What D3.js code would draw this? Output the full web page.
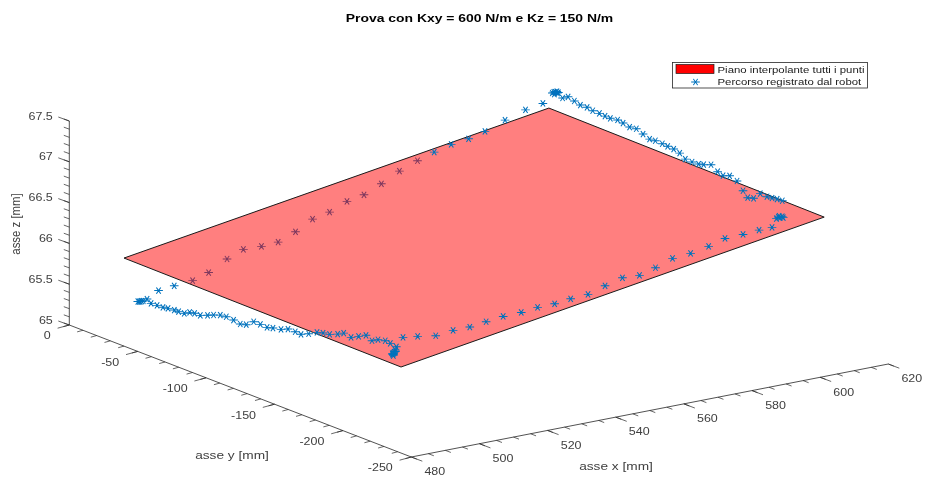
<!DOCTYPE html>
<html>
<head>
<meta charset="utf-8">
<script src="https://cdn.jsdelivr.net/npm/d3@7"></script>
<style>
  html, body { margin: 0; padding: 0; background: #fff; }
  svg { filter: blur(0.35px); }
  text { font-family: "Liberation Sans", Arial, sans-serif; fill: #404040; }
</style>
</head>
<body>
<div id="chart"></div>
<script>
// Axis ticks
var xTicks = [480, 500, 520, 540, 560, 580, 600, 620];
var yTicks = [0, -50, -100, -150, -200, -250];
var zTicks = [65, 65.5, 66, 66.5, 67, 67.5];

// Plane corners (mm)
var planeX = [481, 605.7, 605.2, 481];
var planeY = [-37.5, -37.5, -240, -240];
var planeZ = [66.055, 66.878, 66.856, 66.03];

// Robot path (mm), points drawn in front of the plane
var pathX = [
  483, 483, 483, 483, 483, 483, 483, 483, 483, 483,
  483, 483, 483, 483, 483, 483, 483, 483, 483, 483,
  483, 483, 483, 483, 483, 483, 483, 483, 483, 483,
  483, 483, 483, 483, 483, 483, 483, 483, 483, 483,
  483, 483, 483, 483, 483, 483, 483, 483, 483, 483, 483,
  485.6, 489.9, 495.2, 500.3, 505.2, 510, 515, 520.3, 525.1, 530.1,
  534.8, 539.9, 544.9, 550, 555, 559.7, 564.7, 570, 575.3, 580.1,
  585.4, 590.1, 593.9, 595.2, 595.8, 596.3, 596.9, 597.2, 596,
  597, 597, 597, 597, 597, 597, 597, 597, 597, 597,
  597, 597, 597, 597, 597, 597, 597, 597, 597, 597,
  597, 597, 597, 597, 597, 597, 597, 597, 597, 597,
  597, 597, 597, 597, 597, 597, 597,
  597, 597, 597, 597, 597, 597, 597,
  593.3, 588.2, 582.2, 576.3, 571.5, 566.4, 561.4,
  485.1, 480.5, 482.5
];
var pathY = [
  -42.6, -43.5, -44.4, -45.4, -46.6, -52.3, -56.7, -61, -64.7, -69.3,
  -72.4, -76.6, -80.5, -84.1, -88.3, -93.6, -98, -102.9, -107.3, -112.6,
  -117.5, -121.9, -127.3, -132.2, -137.1, -141.4, -147.3, -152.4, -157.7, -161.9,
  -167.5, -173.6, -178, -182.8, -188.7, -193.1, -198.5, -204, -209.4, -213.8,
  -218.2, -223.5, -227.2, -231.6, -230.9, -229.6, -229, -230.1, -229.4, -230.9, -228.7,
  -230, -230, -230, -230, -230, -230, -230, -230, -230, -230,
  -230, -230, -230, -230, -230, -230, -230, -230, -230, -230,
  -230, -230, -230, -230, -230, -230, -230, -230, -230,
  -229.8, -226, -222.3, -218.6, -213.7, -208.8, -204.5, -201.1, -196.7, -191.3,
  -186.5, -182.5, -177.7, -172.3, -168.6, -163.8, -158.9, -154.8, -150.4, -146,
  -142.1, -137, -132.8, -128, -123.1, -118.2, -113.4, -109.4, -104.1, -100.2,
  -96.1, -91.2, -87.1, -82.2, -77.8, -73.2, -69.2,
  -61.7, -62.8, -63.9, -65, -66.1, -63.2, -65.4,
  -64, -64, -64, -64, -64, -64, -64,
  -64, -64, -50.6
];
var pathZ = [
  65.539, 65.544, 65.551, 65.563, 65.571, 65.579, 65.583, 65.587, 65.598, 65.607,
  65.607, 65.614, 65.651, 65.663, 65.665, 65.7, 65.732, 65.763, 65.771, 65.765,
  65.748, 65.768, 65.839, 65.839, 65.834, 65.853, 65.875, 65.912, 65.913, 65.909,
  65.952, 66.009, 66.029, 66.044, 66.085, 66.126, 66.108, 66.156, 66.204, 66.166,
  66.207, 66.229, 66.221, 66.207, 66.162, 66.114, 66.095, 66.133, 66.085, 66.144, 66.105,
  66.291, 66.268, 66.233, 66.257, 66.258, 66.284, 66.308, 66.314, 66.337, 66.34,
  66.363, 66.376, 66.44, 66.497, 66.486, 66.541, 66.615, 66.633, 66.676, 66.734,
  66.74, 66.755, 66.757, 66.854, 66.868, 66.857, 66.865, 66.85, 66.878,
  67.057, 67.053, 67.042, 67.034, 67.04, 66.951, 66.931, 66.994, 67.085, 67.114,
  67.084, 67.107, 67.161, 67.127, 67.111, 67.105, 67.109, 67.156, 67.177, 67.182,
  67.188, 67.192, 67.185, 67.216, 67.249, 67.238, 67.256, 67.268, 67.254, 67.256,
  67.263, 67.263, 67.279, 67.275, 67.296, 67.318, 67.277,
  67.29, 67.309, 67.315, 67.329, 67.324, 67.286, 67.313,
  67.207, 67.17, 67.093, 67.003, 66.951, 66.924, 66.87,
  65.853, 65.832, 65.625
];

// Robot path points seen through the plane
var coveredX = [556.5, 551.2, 545.9, 540.8, 535.8, 530.7, 525.7, 520.7, 515.6, 510.7, 505.4, 500.6, 495.2, 490.5];
var coveredY = [-64, -64, -64, -64, -64, -64, -64, -64, -64, -64, -64, -64, -64, -64];
var coveredZ = [66.804, 66.72, 66.608, 66.515, 66.475, 66.385, 66.34, 66.225, 66.14, 66.128, 66.134, 66.055, 65.933, 65.873];

var width = 929, height = 484;
var stretch = 1.2; // the picture is wider than the original figure, text and markers too

var svg = d3.select("#chart")
  .append("svg")
    .attr("width", width)
    .attr("height", height)
    .style("display", "block");

// Fixed 3D view: each data axis gives a shift along screen x and screen y
var xToH = d3.scaleLinear().domain([480, 620]).range([0, 477]);
var xToV = d3.scaleLinear().domain([480, 620]).range([0, -93]);
var yToH = d3.scaleLinear().domain([0, -250]).range([0, 342]);
var yToV = d3.scaleLinear().domain([0, -250]).range([0, 132]);
var zToV = d3.scaleLinear().domain([65, 67.5]).range([0, -204]);
var origin = {left: 69.3, top: 325};

function project(x, y, z) {
  return [origin.left + xToH(x) + yToH(y), origin.top + xToV(x) + yToV(y) + zToV(z)];
}

function wide(x, y) {
  return "translate(" + x + "," + y + ") scale(" + stretch + ",1)";
}

var axisColor = "#262626";

// draws one 3D axis line with its major and minor ticks and labels
function drawAxis(cfg) {
  var g = svg.append("g");
  var a = cfg.pos(cfg.domain[0]), b = cfg.pos(cfg.domain[1]);
  g.append("line")
    .attr("x1", a[0]).attr("y1", a[1])
    .attr("x2", b[0]).attr("y2", b[1])
    .attr("stroke", axisColor)
    .attr("stroke-width", 0.8);

  g.selectAll(".minor")
    .data(cfg.minor)
    .enter()
    .append("line")
      .attr("x1", function(d) { return cfg.pos(d)[0]; })
      .attr("y1", function(d) { return cfg.pos(d)[1]; })
      .attr("x2", function(d) { return cfg.pos(d)[0] + cfg.tick[0] / 2; })
      .attr("y2", function(d) { return cfg.pos(d)[1] + cfg.tick[1] / 2; })
      .attr("stroke", axisColor)
      .attr("stroke-width", 0.7);

  g.selectAll(".major")
    .data(cfg.ticks)
    .enter()
    .append("line")
      .attr("x1", function(d) { return cfg.pos(d)[0]; })
      .attr("y1", function(d) { return cfg.pos(d)[1]; })
      .attr("x2", function(d) { return cfg.pos(d)[0] + cfg.tick[0]; })
      .attr("y2", function(d) { return cfg.pos(d)[1] + cfg.tick[1]; })
      .attr("stroke", axisColor)
      .attr("stroke-width", 0.7);

  g.selectAll("text")
    .data(cfg.ticks)
    .enter()
    .append("text")
      .attr("transform", function(d) {
        return wide(cfg.pos(d)[0] + cfg.label[0], cfg.pos(d)[1] + cfg.label[1]);
      })
      .attr("dy", "0.35em")
      .attr("text-anchor", cfg.anchor)
      .style("font-size", "10.4px")
      .text(function(d) { return d; });
}

drawAxis({
  domain: [480, 620], ticks: xTicks, minor: d3.range(480, 621, 5),
  pos: function(d) { return project(d, -250, 65); },
  tick: [11, 4.2], label: [23.5, 14.6], anchor: "middle"
});
drawAxis({
  domain: [0, -250], ticks: yTicks, minor: d3.range(0, -251, -10),
  pos: function(d) { return project(480, d, 65); },
  tick: [-11.7, 3.2], label: [-18.5, 10.8], anchor: "end"
});
drawAxis({
  domain: [65, 67.5], ticks: zTicks, minor: d3.range(650, 676).map(function(d) { return d / 10; }),
  pos: function(d) { return project(480, 0, d); },
  tick: [-11, -4], label: [-16.5, -5], anchor: "end"
});

// the MATLAB style star marker
var star = {
  draw: function(context, size) {
    var r = Math.sqrt(size);
    [0, 60, 120].forEach(function(deg) {
      var c = r * Math.cos(deg * Math.PI / 180), s = r * Math.sin(deg * Math.PI / 180);
      context.moveTo(-c, -s);
      context.lineTo(c, s);
    });
  }
};
var starPath = d3.symbol().type(star).size(13);

function drawStars(xs, ys, zs) {
  svg.append("g")
    .selectAll("path")
    .data(xs)
    .enter()
    .append("path")
      .attr("d", starPath)
      .attr("transform", function(d, i) {
        var p = project(xs[i], ys[i], zs[i]);
        return wide(p[0], p[1]);
      })
      .attr("fill", "none")
      .attr("stroke", "#0072bd")
      .attr("stroke-width", 0.9);
}

drawStars(coveredX, coveredY, coveredZ);

// interpolating plane
var planePoints = planeX.map(function(d, i) { return project(planeX[i], planeY[i], planeZ[i]); });
svg.append("path")
  .attr("d", d3.line()(planePoints) + "Z")
  .attr("fill", "#ff0000")
  .attr("fill-opacity", 0.5)
  .attr("stroke", "#1a1a1a")
  .attr("stroke-width", 1);

drawStars(pathX, pathY, pathZ);

// Title
svg.append("text")
  .attr("transform", wide(479.5, 22))
  .attr("text-anchor", "middle")
  .style("font-size", "11.6px")
  .style("font-weight", "bold")
  .style("fill", "#000")
  .text("Prova con Kxy = 600 N/m e Kz = 150 N/m");

// text labels for the axes
svg.append("text")
  .attr("transform", wide(616, 469.5))
  .attr("text-anchor", "middle")
  .style("font-size", "11.4px")
  .text("asse x [mm]");
svg.append("text")
  .attr("transform", wide(232, 459))
  .attr("text-anchor", "middle")
  .style("font-size", "11.4px")
  .text("asse y [mm]");
svg.append("text")
  .attr("transform", wide(20, 224) + " rotate(-90)")
  .attr("text-anchor", "middle")
  .style("font-size", "11.4px")
  .text("asse z [mm]");

// Legend
var legend = svg.append("g");
legend.append("rect")
  .attr("x", 672.5).attr("y", 62.5)
  .attr("width", 195).attr("height", 25.5)
  .attr("fill", "#fff")
  .attr("stroke", "#262626")
  .attr("stroke-width", 0.8);
legend.append("rect")
  .attr("x", 676).attr("y", 64.5)
  .attr("width", 38).attr("height", 9)
  .attr("fill", "#ff0000")
  .attr("stroke", "#1a1a1a")
  .attr("stroke-width", 0.7);
legend.append("path")
  .attr("d", starPath)
  .attr("transform", wide(695.5, 82))
  .attr("fill", "none")
  .attr("stroke", "#0072bd")
  .attr("stroke-width", 0.9);
legend.append("text")
  .attr("transform", wide(717.5, 70))
  .attr("dy", "0.35em")
  .style("font-size", "9.5px")
  .style("fill", "#1a1a1a")
  .text("Piano interpolante tutti i punti");
legend.append("text")
  .attr("transform", wide(717.5, 82))
  .attr("dy", "0.35em")
  .style("font-size", "9.5px")
  .style("fill", "#1a1a1a")
  .text("Percorso registrato dal robot");
</script>
</body>
</html>
